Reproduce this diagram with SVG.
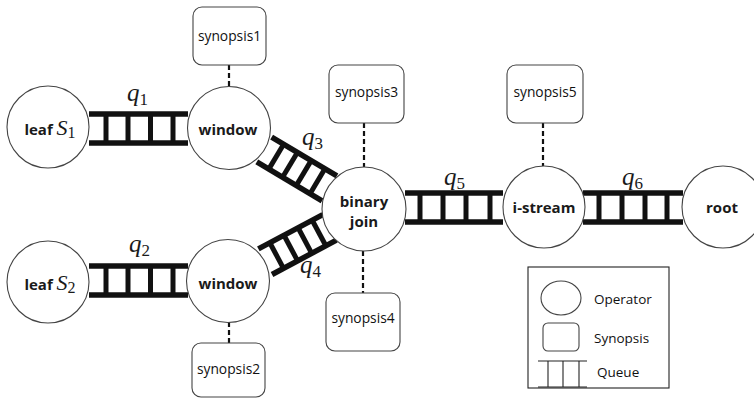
<svg xmlns="http://www.w3.org/2000/svg" width="754" height="400" viewBox="0 0 754 400">
<style>
.op{fill:#fff;stroke:#444;stroke-width:1.1}
.syn{fill:#fff;stroke:#444;stroke-width:1.1}
.lbl{font-family:"Open Sans","Liberation Sans",sans-serif;font-weight:bold;font-size:15px;fill:#1a1a1a;text-anchor:middle}
.st{font-family:"Open Sans","Liberation Sans",sans-serif;font-size:13.8px;fill:#111;text-anchor:middle}
.lg{font-family:"Open Sans","Liberation Sans",sans-serif;font-size:13.5px;fill:#111}
.m{font-family:"Liberation Serif","DejaVu Serif",serif;font-style:italic;font-size:25px;fill:#1a1a1a}
.sub{font-style:normal;font-size:17px}
.rail{stroke:#111;stroke-width:5.5;fill:none}
.rung{stroke:#111;stroke-width:5;fill:none}
.dash{stroke:#111;stroke-width:2.2;stroke-dasharray:5,3;fill:none}
.thin{stroke:#222;stroke-width:1.1;fill:none}
</style>
<g id="connectors">
  <g id="q1" transform="translate(89,128.5)">
    <line class="rail" x1="0" y1="-14.5" x2="99" y2="-14.5"/><line class="rail" x1="0" y1="14.5" x2="99" y2="14.5"/>
    <line class="rung" x1="17" y1="-14.5" x2="17" y2="14.5"/><line class="rung" x1="39" y1="-14.5" x2="39" y2="14.5"/><line class="rung" x1="61.5" y1="-14.5" x2="61.5" y2="14.5"/><line class="rung" x1="84" y1="-14.5" x2="84" y2="14.5"/>
  </g>
  <g id="q2" transform="translate(89,280.5)">
    <line class="rail" x1="0" y1="-14.5" x2="99" y2="-14.5"/><line class="rail" x1="0" y1="14.5" x2="99" y2="14.5"/>
    <line class="rung" x1="17" y1="-14.5" x2="17" y2="14.5"/><line class="rung" x1="39" y1="-14.5" x2="39" y2="14.5"/><line class="rung" x1="61.5" y1="-14.5" x2="61.5" y2="14.5"/><line class="rung" x1="84" y1="-14.5" x2="84" y2="14.5"/>
  </g>
  <g id="q3" transform="translate(264.2,149.5) rotate(30.8)">
    <line class="rail" x1="0" y1="-14.5" x2="76" y2="-14.5"/><line class="rail" x1="0" y1="14.5" x2="76" y2="14.5"/>
    <line class="rung" x1="14" y1="-14.5" x2="14" y2="14.5"/><line class="rung" x1="30" y1="-14.5" x2="30" y2="14.5"/><line class="rung" x1="46" y1="-14.5" x2="46" y2="14.5"/><line class="rung" x1="62" y1="-14.5" x2="62" y2="14.5"/>
  </g>
  <g id="q4" transform="translate(265.2,261.7) rotate(-28.07)">
    <line class="rail" x1="0" y1="-14.5" x2="73" y2="-14.5"/><line class="rail" x1="0" y1="14.5" x2="73" y2="14.5"/>
    <line class="rung" x1="13" y1="-14.5" x2="13" y2="14.5"/><line class="rung" x1="29" y1="-14.5" x2="29" y2="14.5"/><line class="rung" x1="45" y1="-14.5" x2="45" y2="14.5"/><line class="rung" x1="61" y1="-14.5" x2="61" y2="14.5"/>
  </g>
  <g id="q5" transform="translate(405,207.5)">
    <line class="rail" x1="0" y1="-14.5" x2="98" y2="-14.5"/><line class="rail" x1="0" y1="14.5" x2="98" y2="14.5"/>
    <line class="rung" x1="15" y1="-14.5" x2="15" y2="14.5"/><line class="rung" x1="38" y1="-14.5" x2="38" y2="14.5"/><line class="rung" x1="61" y1="-14.5" x2="61" y2="14.5"/><line class="rung" x1="85" y1="-14.5" x2="85" y2="14.5"/>
  </g>
  <g id="q6" transform="translate(583,207.5)">
    <line class="rail" x1="0" y1="-14.5" x2="100" y2="-14.5"/><line class="rail" x1="0" y1="14.5" x2="100" y2="14.5"/>
    <line class="rung" x1="16" y1="-14.5" x2="16" y2="14.5"/><line class="rung" x1="39" y1="-14.5" x2="39" y2="14.5"/><line class="rung" x1="62" y1="-14.5" x2="62" y2="14.5"/><line class="rung" x1="84" y1="-14.5" x2="84" y2="14.5"/>
  </g>
  <line class="dash" x1="229" y1="65" x2="229" y2="87"/>
  <line class="dash" x1="364" y1="123" x2="364" y2="167"/>
  <line class="dash" x1="543" y1="123" x2="543" y2="166"/>
  <line class="dash" x1="363" y1="251" x2="363" y2="293"/>
  <line class="dash" x1="229" y1="322" x2="229" y2="343"/>
  <text class="m" x="127" y="101">q<tspan class="sub" dy="4">1</tspan></text>
  <text class="m" x="129" y="252">q<tspan class="sub" dy="4">2</tspan></text>
  <text class="m" x="302" y="145">q<tspan class="sub" dy="4">3</tspan></text>
  <text class="m" x="300" y="273">q<tspan class="sub" dy="4">4</tspan></text>
  <text class="m" x="444" y="185">q<tspan class="sub" dy="4">5</tspan></text>
  <text class="m" x="622" y="185">q<tspan class="sub" dy="4">6</tspan></text>
</g>
<g id="leaf1"><circle class="op" cx="48" cy="127" r="41"/><text class="lbl" x="50" y="135">leaf <tspan class="m" style="font-size:22px;font-weight:normal">S</tspan><tspan class="m sub" style="font-weight:normal;font-size:16px" dy="3">1</tspan></text></g>
<g id="leaf2"><circle class="op" cx="48" cy="282" r="41"/><text class="lbl" x="50" y="290">leaf <tspan class="m" style="font-size:22px;font-weight:normal">S</tspan><tspan class="m sub" style="font-weight:normal;font-size:16px" dy="3">2</tspan></text></g>
<g id="window1"><circle class="op" cx="229" cy="128" r="41.5"/><text class="lbl" x="228" y="135">window</text></g>
<g id="window2"><circle class="op" cx="228" cy="281" r="41.5"/><text class="lbl" x="228" y="289">window</text></g>
<g id="join"><circle class="op" cx="364" cy="209" r="42"/><text class="lbl" x="364" y="207">binary</text><text class="lbl" x="364" y="227">join</text></g>
<g id="istream"><circle class="op" cx="544" cy="207" r="41"/><text class="lbl" x="544" y="213">i-stream</text></g>
<g id="root"><circle class="op" cx="723" cy="207" r="41"/><text class="lbl" x="722" y="213">root</text></g>
<g id="synopsis1"><rect class="syn" x="193" y="7" width="73" height="58" rx="9"/><text class="st" x="229.5" y="41">synopsis1</text></g>
<g id="synopsis3"><rect class="syn" x="329" y="65" width="75" height="58" rx="9"/><text class="st" x="366.5" y="97">synopsis3</text></g>
<g id="synopsis5"><rect class="syn" x="507" y="65" width="76" height="58" rx="9"/><text class="st" x="545" y="97">synopsis5</text></g>
<g id="synopsis4"><rect class="syn" x="326" y="293" width="74" height="58" rx="9"/><text class="st" x="363" y="323">synopsis4</text></g>
<g id="synopsis2"><rect class="syn" x="192" y="343" width="73" height="54" rx="9"/><text class="st" x="228.5" y="374">synopsis2</text></g>
<g id="legend">
  <rect x="528" y="267" width="141" height="121" fill="#fff" stroke="#222" stroke-width="1.1"/>
  <ellipse class="op" cx="561" cy="298" rx="20" ry="17"/>
  <text class="lg" x="594" y="304">Operator</text>
  <rect class="syn" x="543" y="323" width="36" height="28" rx="5"/>
  <text class="lg" x="594" y="343">Synopsis</text>
  <line class="thin" x1="538" y1="361" x2="587" y2="361"/><line class="thin" x1="538" y1="387" x2="587" y2="387"/>
  <line class="thin" x1="548" y1="361" x2="548" y2="387"/><line class="thin" x1="563" y1="361" x2="563" y2="387"/><line class="thin" x1="579" y1="361" x2="579" y2="387"/>
  <text class="lg" x="597" y="377">Queue</text>
</g>
</svg>
